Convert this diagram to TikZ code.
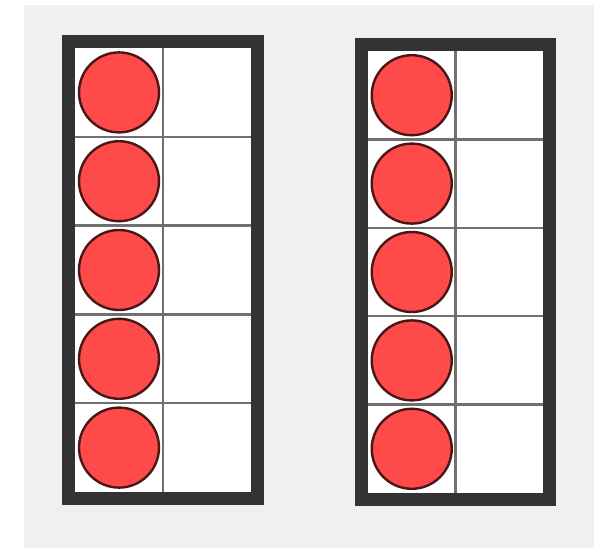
\documentclass[tikz,border=0pt]{standalone}
\usetikzlibrary{positioning}
\definecolor{bgc}{HTML}{F0F0F0}
\definecolor{framec}{HTML}{333333}
\definecolor{gridc}{HTML}{707070}
\definecolor{dotc}{HTML}{FF4A4A}
\definecolor{dotline}{HTML}{4A1616}
\tikzset{
  framebox/.style={draw=framec, line width=13pt, fill=white},
  gridline/.style={draw=gridc, line width=2.4pt},
  counter/.style={circle, fill=dotc, draw=dotline, line width=2.4pt, minimum size=80pt, inner sep=0pt}
}
\begin{document}
\begin{tikzpicture}[x=1pt,y=-1pt]
\useasboundingbox (0,0) rectangle (594,548);
\fill[white] (0,0) rectangle (594,548);
\fill[bgc] (24,5) rectangle (594,548);
\def\drawframe#1#2#3#4#5{%
  % #1 left inner, #2 top inner, #3 right inner, #4 bottom inner, #5 prefix
  \pgfmathsetmacro{\xm}{(#1+#3)/2}
  \pgfmathsetmacro{\rh}{(#4-#2)/5}
  \draw[framebox] (#1-6.5,#2-6.5) rectangle (#3+6.5,#4+6.5);
  \draw[gridline] (\xm,#2) -- (\xm,#4);
  \foreach \k in {1,...,4} {\draw[gridline] (#1,#2+\k*\rh) -- (#3,#2+\k*\rh);}
  \draw[framec, line width=13pt] (#1-6.5,#2-6.5) rectangle (#3+6.5,#4+6.5);
  \foreach \k in {1,...,5} {\node[counter] (#5\k) at ({(#1+\xm)/2},{#2+(\k-0.5)*\rh}) {};}
}
\drawframe{75}{48}{251}{492}{a}
\drawframe{368}{51}{543}{493}{b}
\end{tikzpicture}
\end{document}
